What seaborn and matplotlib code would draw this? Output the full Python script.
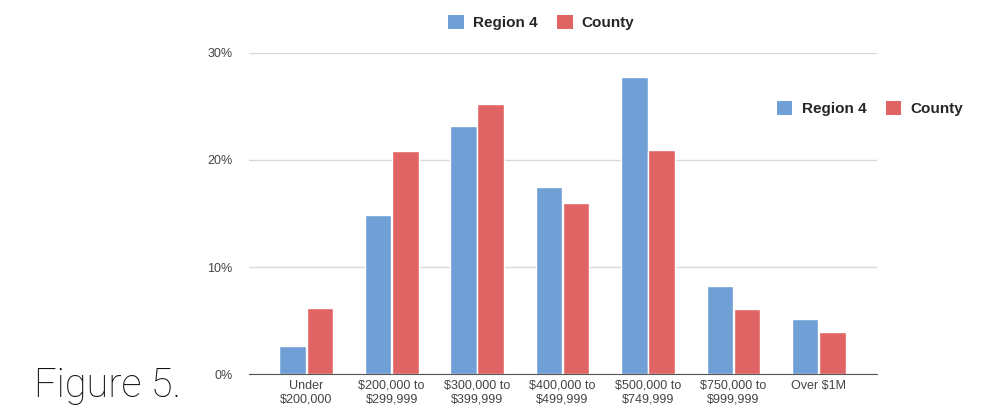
import seaborn as sns
import matplotlib.pyplot as plt
import pandas as pd
from matplotlib.ticker import PercentFormatter
from matplotlib.patches import Patch

categories = ["Under\n$200,000", "$200,000 to\n$299,999", "$300,000 to\n$399,999",
              "$400,000 to\n$499,999", "$500,000 to\n$749,999", "$750,000 to\n$999,999",
              "Over $1M"]
region4 = [2.6, 14.9, 23.2, 17.5, 27.8, 8.2, 5.1]
county = [6.2, 20.8, 25.2, 16.0, 20.9, 6.1, 3.9]
series = ["Region 4", "County"]
colors = ["#6f9fd4", "#e06464"]

df = pd.DataFrame({
    "category": categories * 2,
    "value": region4 + county,
    "series": [series[0]] * len(categories) + [series[1]] * len(categories),
})

sns.set_style("white")
plt.rcParams["font.family"] = ["Liberation Sans", "DejaVu Sans"]

fig = plt.figure(figsize=(9.81, 4.17), dpi=100)
ax = fig.add_axes([0.254, 0.103, 0.640, 0.770])

sns.barplot(data=df, x="category", y="value", hue="series", palette=colors,
            width=0.64, gap=0.03, ax=ax, legend=False, saturation=1)

ax.set_ylim(0, 30)
ax.set_xlim(-0.667, 6.68)
ax.set_yticks([0, 10, 20, 30])
ax.yaxis.set_major_formatter(PercentFormatter(decimals=0))
ax.grid(axis="y", color="#d9d9d9", linewidth=1)
ax.set_axisbelow(True)
ax.set_xlabel(None)
ax.set_ylabel(None)
ax.tick_params(axis="both", length=0, labelsize=9, labelcolor="#444444")
ax.tick_params(axis="y", pad=12)
ax.tick_params(axis="x", pad=4)
for s in ["top", "right", "left"]:
    ax.spines[s].set_visible(False)
ax.spines["bottom"].set_color("#555555")

handles = [Patch(facecolor=c, edgecolor="none") for c in colors]
legend_kw = dict(loc="center", ncol=2, frameon=False,
                 prop={"weight": "bold", "size": 11}, handlelength=1.0,
                 handleheight=1.0, handletextpad=0.6, columnspacing=1.3)
fig.legend(handles, series, bbox_to_anchor=(0.552, 0.945), **legend_kw)
fig.legend(handles, series, bbox_to_anchor=(0.887, 0.74), **legend_kw)

fig.text(0.035, 0.075, "Figure 5.", fontsize=28.5, family=["Roboto", "DejaVu Sans"],
         fontweight="light", color="#111111", va="center")

fig.savefig("out.png", dpi=100)
